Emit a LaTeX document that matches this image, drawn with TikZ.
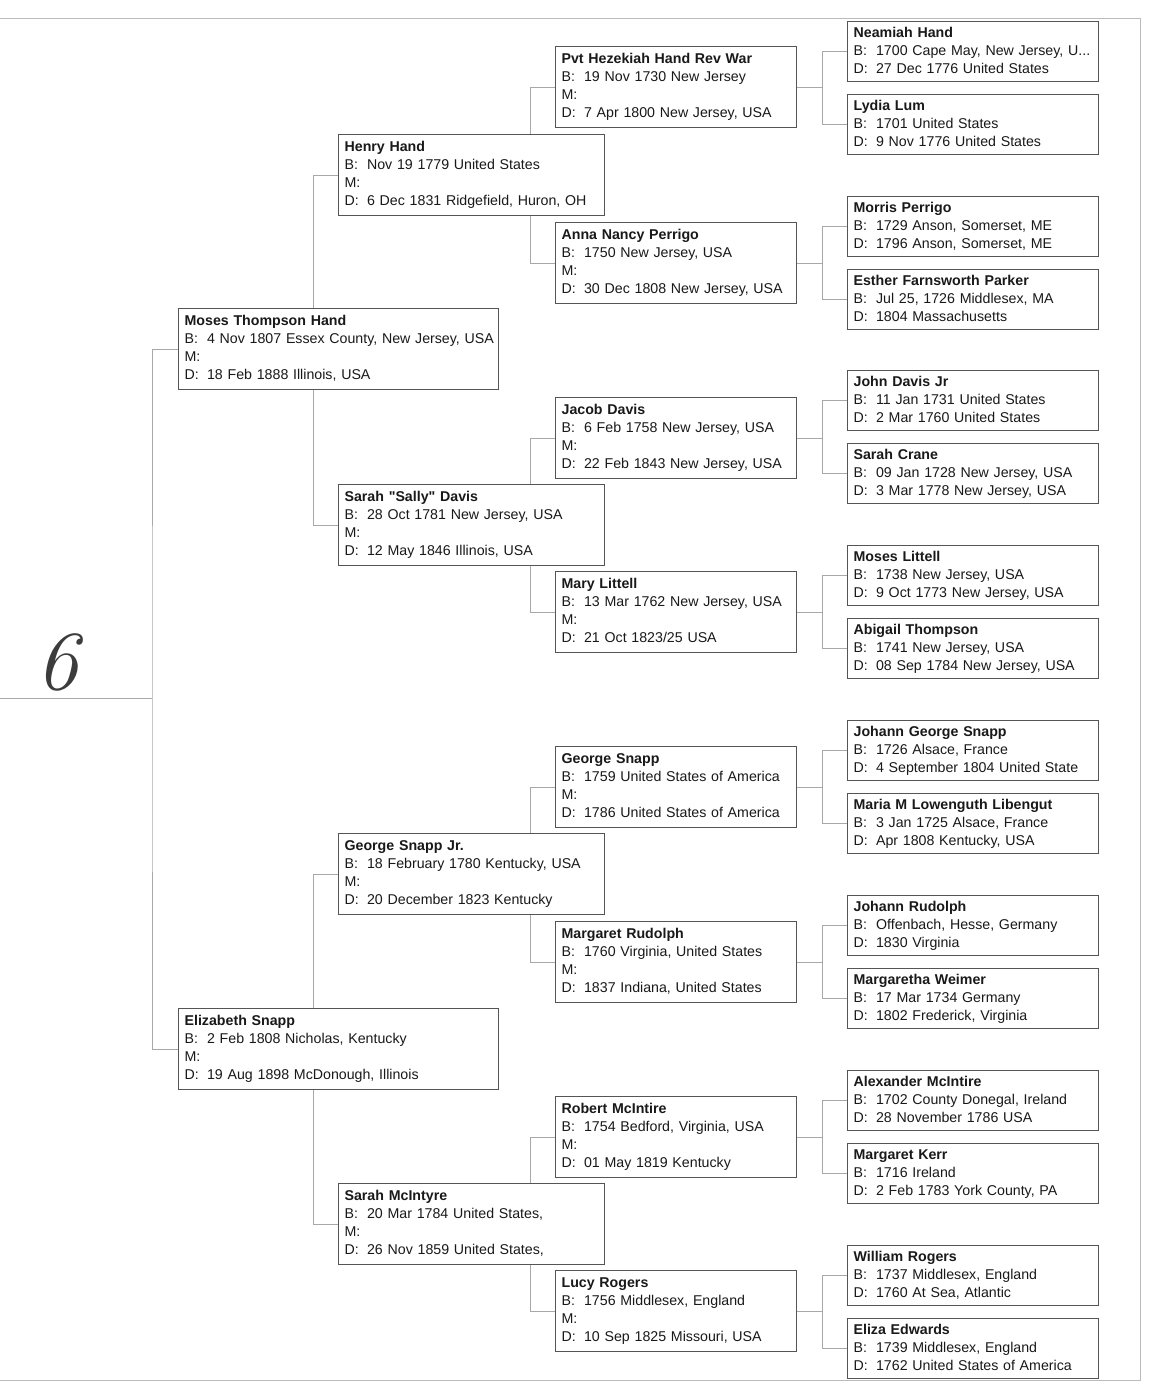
\documentclass[tikz,border=0pt]{standalone}
\usepackage{fontspec}
\setmainfont{Liberation Sans}
\newfontfamily\handfont{Latin Modern Roman}
\usetikzlibrary{positioning,backgrounds}

\definecolor{boxline}{HTML}{555555}
\definecolor{linkline}{HTML}{A8A8A8}
\definecolor{frameline}{HTML}{BBBBBB}
\definecolor{inkgray}{HTML}{3C3C3C}

% field label with fixed width
\newcommand{\fld}[1]{\makebox[22.5pt][l]{#1:}}
% four-line and three-line person entries
\newcommand{\fourline}[3]{\strut\mbox{\textbf{#1}}\\\mbox{\fld{B}#2}\\\fld{M}\\\mbox{\fld{D}#3}\strut}
\newcommand{\threeline}[3]{\strut\mbox{\textbf{#1}}\\\mbox{\fld{B}#2}\\\mbox{\fld{D}#3}\strut}

\tikzset{
  person/.style={draw=boxline, line width=1.2pt, fill=white, anchor=north west,
    align=left, inner xsep=6pt, inner ysep=0pt, text=black!90,
    font=\fontsize{14.2}{18}\selectfont},
  genone/.style={person, text width=308pt, minimum height=81pt},
  gentwo/.style={person, text width=254pt, minimum height=81pt},
  genthree/.style={person, text width=229pt, minimum height=81pt},
  genfour/.style={person, text width=239pt, minimum height=60pt},
  link/.style={draw=linkline, line width=1pt},
  frame/.style={draw=frameline, line width=1pt}
}

\begin{document}
\begin{tikzpicture}[x=1pt, y=-1pt]
  \useasboundingbox (0,0) rectangle (1151,1382);

  % Page frame
  \draw[frame] (0,18) -- (1140,18) -- (1140,1380) -- (0,1380);

  % Page number
  \node[text=inkgray, font=\handfont\fontsize{84}{84}\itshape] (pagenum) at (57,662) {6};

  % Generation 1
  \node[genone] (moses) at (178,308) {\fourline{Moses Thompson Hand}{4 Nov 1807 Essex County, New Jersey, USA}{18 Feb 1888 Illinois, USA}};
  \node[genone] (eliz) at (178,1008) {\fourline{Elizabeth Snapp}{2 Feb 1808 Nicholas, Kentucky}{19 Aug 1898 McDonough, Illinois}};

  % Generation 2
  \node[gentwo] (henry) at (338,134) {\fourline{Henry Hand}{Nov 19 1779 United States}{6 Dec 1831 Ridgefield, Huron, OH}};
  \node[gentwo] (sally) at (338,484) {\fourline{Sarah \textquotedbl Sally\textquotedbl{} Davis}{28 Oct 1781 New Jersey, USA}{12 May 1846 Illinois, USA}};
  \node[gentwo] (georgejr) at (338,833) {\fourline{George Snapp Jr.}{18 February 1780 Kentucky, USA}{20 December 1823 Kentucky}};
  \node[gentwo] (sarahmc) at (338,1183) {\fourline{Sarah McIntyre}{20 Mar 1784 United States,}{26 Nov 1859 United States,}};

  % Generation 3
  \node[genthree] (hezekiah) at (555,46) {\fourline{Pvt Hezekiah Hand Rev War}{19 Nov 1730 New Jersey}{7 Apr 1800 New Jersey, USA}};
  \node[genthree] (anna) at (555,222) {\fourline{Anna Nancy Perrigo}{1750 New Jersey, USA}{30 Dec 1808 New Jersey, USA}};
  \node[genthree] (jacob) at (555,397) {\fourline{Jacob Davis}{6 Feb 1758 New Jersey, USA}{22 Feb 1843 New Jersey, USA}};
  \node[genthree] (mary) at (555,571) {\fourline{Mary Littell}{13 Mar 1762 New Jersey, USA}{21 Oct 1823/25 USA}};
  \node[genthree] (george) at (555,746) {\fourline{George Snapp}{1759 United States of America}{1786 United States of America}};
  \node[genthree] (margaret) at (555,921) {\fourline{Margaret Rudolph}{1760 Virginia, United States}{1837 Indiana, United States}};
  \node[genthree] (robert) at (555,1096) {\fourline{Robert McIntire}{1754 Bedford, Virginia, USA}{01 May 1819 Kentucky}};
  \node[genthree] (lucy) at (555,1270) {\fourline{Lucy Rogers}{1756 Middlesex, England}{10 Sep 1825 Missouri, USA}};

  % Generation 4
  \node[genfour] (neamiah) at (847,21) {\threeline{Neamiah Hand}{1700 Cape May, New Jersey, U...}{27 Dec 1776 United States}};
  \node[genfour] (lydia) at (847,94) {\threeline{Lydia Lum}{1701 United States}{9 Nov 1776 United States}};
  \node[genfour] (morris) at (847,196) {\threeline{Morris Perrigo}{1729 Anson, Somerset, ME}{1796 Anson, Somerset, ME}};
  \node[genfour] (esther) at (847,269) {\threeline{Esther Farnsworth Parker}{Jul 25, 1726 Middlesex, MA}{1804 Massachusetts}};
  \node[genfour] (johnjr) at (847,370) {\threeline{John Davis Jr}{11 Jan 1731 United States}{2 Mar 1760 United States}};
  \node[genfour] (crane) at (847,443) {\threeline{Sarah Crane}{09 Jan 1728 New Jersey, USA}{3 Mar 1778 New Jersey, USA}};
  \node[genfour] (moseslit) at (847,545) {\threeline{Moses Littell}{1738 New Jersey, USA}{9 Oct 1773 New Jersey, USA}};
  \node[genfour] (abigail) at (847,618) {\threeline{Abigail Thompson}{1741 New Jersey, USA}{08 Sep 1784 New Jersey, USA}};
  \node[genfour] (johanng) at (847,720) {\threeline{Johann George Snapp}{1726 Alsace, France}{4 September 1804 United State}};
  \node[genfour] (maria) at (847,793) {\threeline{Maria M Lowenguth Libengut}{3 Jan 1725 Alsace, France}{Apr 1808 Kentucky, USA}};
  \node[genfour] (johannr) at (847,895) {\threeline{Johann Rudolph}{Offenbach, Hesse, Germany}{1830 Virginia}};
  \node[genfour] (weimer) at (847,968) {\threeline{Margaretha Weimer}{17 Mar 1734 Germany}{1802 Frederick, Virginia}};
  \node[genfour] (alexander) at (847,1070) {\threeline{Alexander McIntire}{1702 County Donegal, Ireland}{28 November 1786 USA}};
  \node[genfour] (kerr) at (847,1143) {\threeline{Margaret Kerr}{1716 Ireland}{2 Feb 1783 York County, PA}};
  \node[genfour] (william) at (847,1245) {\threeline{William Rogers}{1737 Middlesex, England}{1760 At Sea, Atlantic}};
  \node[genfour] (eliza) at (847,1318) {\threeline{Eliza Edwards}{1739 Middlesex, England}{1762 United States of America}};

  % Connectors
  \begin{scope}[on background layer]
    \coordinate (rootend) at (0,698);
    \coordinate (rootjoin) at (152,698);
    \draw[link] (rootend) -- (rootjoin);
    \draw[link] (moses.west) -| (rootjoin) |- (eliz.west);

    \draw[link] (henry.west) -- ++(-25,0) |- (sally.west);
    \draw[link] (georgejr.west) -- ++(-25,0) |- (sarahmc.west);

    \draw[link] (hezekiah.west) -- ++(-25,0) |- (anna.west);
    \draw[link] (jacob.west) -- ++(-25,0) |- (mary.west);
    \draw[link] (george.west) -- ++(-25,0) |- (margaret.west);
    \draw[link] (robert.west) -- ++(-25,0) |- (lucy.west);

    \draw[link] (neamiah.west) -- ++(-25,0) |- (lydia.west);
    \draw[link] (morris.west) -- ++(-25,0) |- (esther.west);
    \draw[link] (johnjr.west) -- ++(-25,0) |- (crane.west);
    \draw[link] (moseslit.west) -- ++(-25,0) |- (abigail.west);
    \draw[link] (johanng.west) -- ++(-25,0) |- (maria.west);
    \draw[link] (johannr.west) -- ++(-25,0) |- (weimer.west);
    \draw[link] (alexander.west) -- ++(-25,0) |- (kerr.west);
    \draw[link] (william.west) -- ++(-25,0) |- (eliza.west);

    % fathers' stubs to the next generation
    \draw[link] (hezekiah.east) -- ++(26,0);
    \draw[link] (anna.east) -- ++(26,0);
    \draw[link] (jacob.east) -- ++(26,0);
    \draw[link] (mary.east) -- ++(26,0);
    \draw[link] (george.east) -- ++(26,0);
    \draw[link] (margaret.east) -- ++(26,0);
    \draw[link] (robert.east) -- ++(26,0);
    \draw[link] (lucy.east) -- ++(26,0);
  \end{scope}
\end{tikzpicture}
\end{document}
